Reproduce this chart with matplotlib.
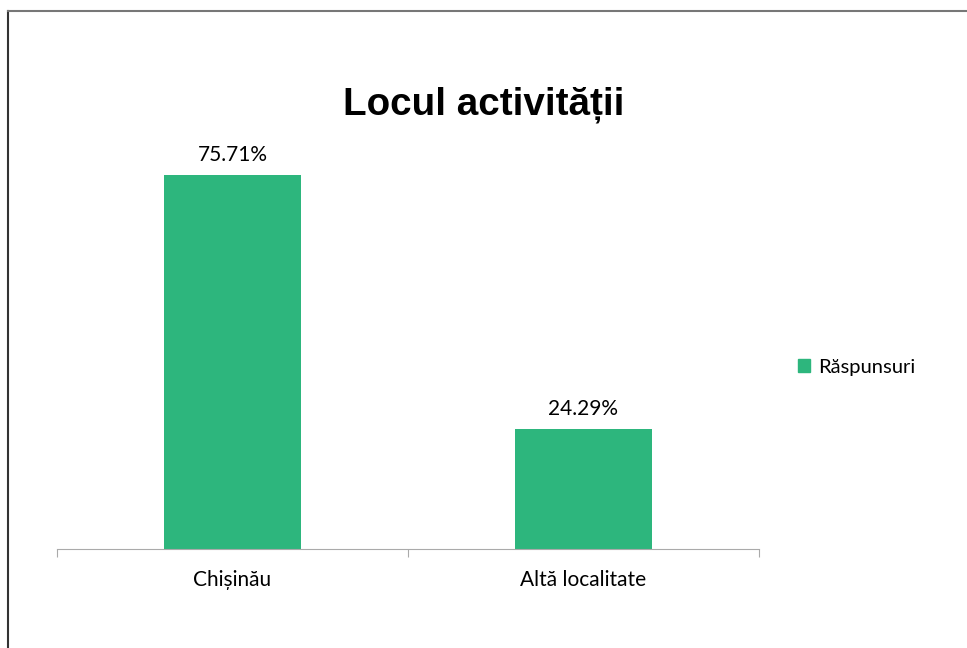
import matplotlib.pyplot as plt
from matplotlib.lines import Line2D
from matplotlib.patches import Patch

categories = ['Chișinău', 'Altă localitate']
values = [75.71, 24.29]
series_name = 'Răspunsuri'
title = 'Locul activității'

green = '#2DB67D'
label_font = ['Lato', 'DejaVu Sans']

fig = plt.figure(figsize=(9.67, 6.48), dpi=100)
W, H = 967, 648

# outer frame: only left and top edges visible
fig.add_artist(Line2D([8 / W, 8 / W], [0, 1 - 11 / H], transform=fig.transFigure, color='#333333', lw=1.5))
fig.add_artist(Line2D([8 / W, 1], [1 - 11 / H, 1 - 11 / H], transform=fig.transFigure, color='#777777', lw=1.5))

ax = fig.add_axes([57 / W, 1 - 549 / H, (759 - 57) / W, (549 - 154) / H])
x = list(range(len(categories)))
ax.bar(x, values, width=0.393, color=green)
ax.set_xlim(-0.5, len(categories) - 0.5)
ax.set_ylim(0, 80)

for xi, v in zip(x, values):
    ax.text(xi, v + 2.0, f'{v:.2f}%', ha='center', va='bottom', fontsize=15, family=label_font)

for s in ['top', 'right', 'left']:
    ax.spines[s].set_visible(False)
ax.spines['bottom'].set_color('#aaaaaa')
ax.set_yticks([])
ax.set_xticks([-0.5, 0.5, 1.5])
ax.set_xticklabels([])
ax.set_xticks(x, minor=True)
ax.set_xticklabels(categories, minor=True, fontsize=15, family=label_font)
ax.tick_params(axis='x', which='major', length=6, color='#aaaaaa')
ax.tick_params(axis='x', which='minor', length=0, pad=15)

fig.text(0.5, 1 - 105 / H, title, ha='center', va='center', fontsize=27.8, fontweight='bold',
         family='Liberation Sans')

fig.legend(handles=[Patch(color=green, label=series_name)], loc='center left',
           bbox_to_anchor=(780 / W, 1 - 367 / H), frameon=False, handlelength=0.6,
           handleheight=0.6, handletextpad=0.4, prop={'family': label_font, 'size': 14.5})

fig.savefig('out.png', dpi=100, facecolor='white')
